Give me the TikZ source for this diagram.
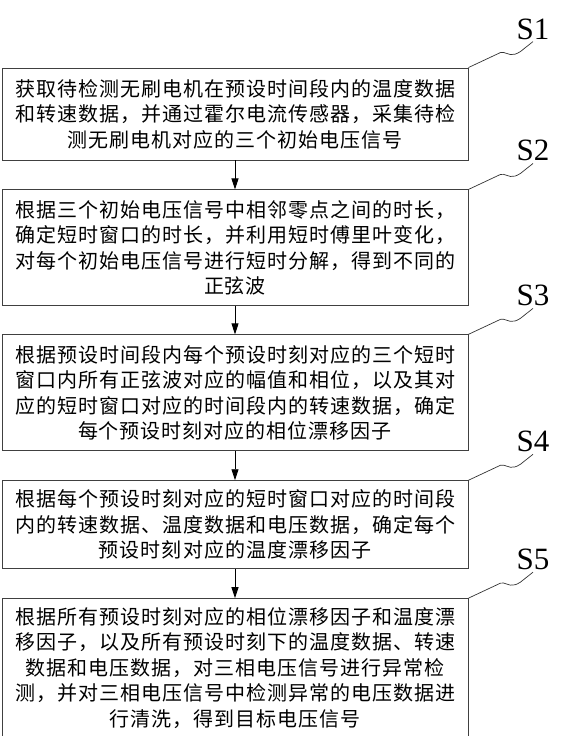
\documentclass[tikz,border=0pt]{standalone}
\usepackage{fontspec}
\setmainfont{Liberation Serif}
\newfontfamily\cjk[LetterSpace=5]{Noto Sans CJK SC}
\usetikzlibrary{positioning, arrows.meta}

\begin{document}
\begin{tikzpicture}[
  x=1pt, y=-1pt,
  stepbox/.style={draw=black!75, line width=0.9pt, minimum width=466pt, align=center,
                  inner sep=0pt, font=\cjk\fontsize{20}{25.5}\selectfont},
  arr/.style={-{Triangle[length=11pt, width=7pt]}, line width=0.9pt, color=black},
  steplbl/.style={inner sep=0pt, font=\fontsize{31}{31}\selectfont},
  wave/.style={draw=black!80, line width=0.7pt,
               to path={-- ++(32,-15) .. controls +(5,-1) and +(-4,0) .. ++(10,2)
                        .. controls +(4,0) and +(-5,3) .. ++(10,-3) -- (\tikztotarget)}},
]
\useasboundingbox (0,0) rectangle (567,736);

% --- Main nodes ---
\node[stepbox, minimum height=92pt] (b1) at (235,114)
  {获取待检测无刷电机在预设时间段内的温度数据\\和转速数据，并通过霍尔电流传感器，采集待检\\测无刷电机对应的三个初始电压信号};

\node[stepbox, minimum height=116pt, below=29pt of b1] (b2)
  {根据三个初始电压信号中相邻零点之间的时长，\\确定短时窗口的时长，并利用短时傅里叶变化，\\对每个初始电压信号进行短时分解，得到不同的\\正弦波};

\node[stepbox, minimum height=116pt, below=28pt of b2] (b3)
  {根据预设时间段内每个预设时刻对应的三个短时\\窗口内所有正弦波对应的幅值和相位，以及其对\\应的短时窗口对应的时间段内的转速数据，确定\\每个预设时刻对应的相位漂移因子};

\node[stepbox, minimum height=88pt, below=29pt of b3] (b4)
  {根据每个预设时刻对应的短时窗口对应的时间段\\内的转速数据、温度数据和电压数据，确定每个\\预设时刻对应的温度漂移因子};

\node[stepbox, minimum height=138pt, below=29pt of b4] (b5)
  {根据所有预设时刻对应的相位漂移因子和温度漂\\移因子，以及所有预设时刻下的温度数据、转速\\数据和电压数据，对三相电压信号进行异常检\\测，并对三相电压信号中检测异常的电压数据进\\行清洗，得到目标电压信号};

% --- Step labels ---
\foreach \i in {1,...,5}
  \node[steplbl, above right=28pt and 48pt of b\i.north east] (s\i) {S\i};

% --- Arrows ---
\draw[arr] (b1) -- (b2);
\draw[arr] (b2) -- (b3);
\draw[arr] (b3) -- (b4);
\draw[arr] (b4) -- (b5);

% --- Leader lines ---
\foreach \i in {1,...,5}
  \draw[wave] (b\i.north east) to ([yshift=-2pt]s\i.south);

\end{tikzpicture}
\end{document}
